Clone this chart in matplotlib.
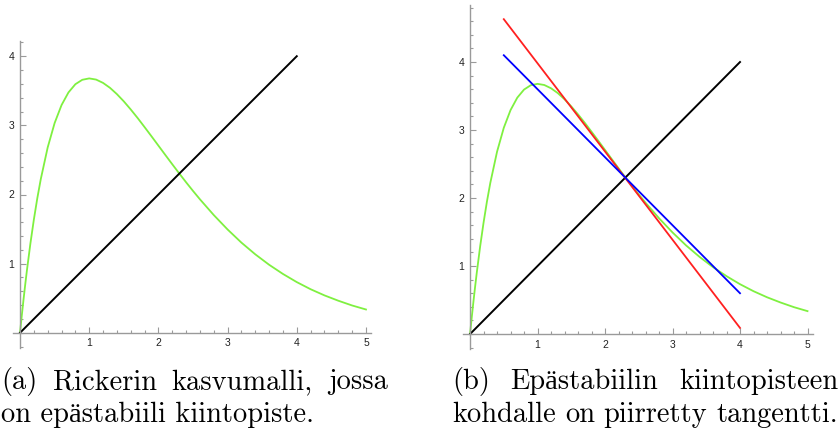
import matplotlib
matplotlib.use('Agg')
import matplotlib.pyplot as plt
from matplotlib.ticker import FixedLocator, MultipleLocator

# Ricker curve values
x_curve = [0.0, 0.025, 0.05, 0.075, 0.1, 0.15, 0.2, 0.25, 0.3, 0.4, 0.5, 0.6, 0.7, 0.8, 0.9,
           1.0, 1.1, 1.2, 1.3, 1.4, 1.5, 1.6, 1.7, 1.8, 1.9, 2.0, 2.1, 2.2, 2.3, 2.4, 2.5,
           2.6, 2.8, 3.0, 3.2, 3.4, 3.6, 3.8, 4.0, 4.2, 4.4, 4.6, 4.8, 5.0]
y_curve = [0.0, 0.244, 0.476, 0.696, 0.905, 1.291, 1.637, 1.947, 2.222, 2.681, 3.033, 3.293,
           3.476, 3.595, 3.659, 3.679, 3.662, 3.614, 3.543, 3.452, 3.347, 3.230, 3.106, 2.975,
           2.842, 2.707, 2.572, 2.438, 2.306, 2.177, 2.052, 1.931, 1.703, 1.494, 1.304, 1.135,
           0.984, 0.851, 0.733, 0.630, 0.541, 0.464, 0.395, 0.337]
diag_x = [0.0, 4.0]
diag_y = [0.0, 4.0]
red_x = [0.5, 4.0]
red_y = [4.63, 0.09]
blue_x = [0.5, 4.0]
blue_y = [4.10, 0.60]
x_ticks = [1, 2, 3, 4, 5]
y_ticks = [1, 2, 3, 4]
caption_a = [["(a)", "Rickerin", "kasvumalli,", "jossa"],
             ["on", "epästabiili", "kiintopiste."]]
caption_b = [["(b)", "Epästabiilin", "kiintopisteen"],
             ["kohdalle", "on", "piirretty", "tangentti."]]

W, H = 839, 441
fig = plt.figure(figsize=(W / 100, H / 100), dpi=100)
fig.patch.set_facecolor('white')

AX_COL = '#9a9a9a'
GREEN = '#7ff040'


def px_axes(x0, x1, ytop, ybot):
    return fig.add_axes([x0 / W, 1 - ybot / H, (x1 - x0) / W, (ybot - ytop) / H])


def style(ax, xlim, ylim):
    ax.set_xlim(*xlim)
    ax.set_ylim(*ylim)
    ax.patch.set_visible(False)
    for s in ['top', 'right']:
        ax.spines[s].set_visible(False)
    ax.spines['left'].set_position(('data', 0))
    ax.spines['bottom'].set_position(('data', 0))
    for s in ['left', 'bottom']:
        ax.spines[s].set_color(AX_COL)
        ax.spines[s].set_linewidth(1.0)
    ax.xaxis.set_major_locator(FixedLocator(x_ticks))
    ax.yaxis.set_major_locator(FixedLocator(y_ticks))
    ax.xaxis.set_minor_locator(MultipleLocator(0.2))
    ax.yaxis.set_minor_locator(MultipleLocator(0.2))
    ax.tick_params(which='both', direction='in', color=AX_COL, width=0.8,
                   labelsize=7.5, labelcolor='#222222')
    ax.tick_params(which='major', length=4.5, pad=4)
    ax.tick_params(which='minor', length=2.5)
    for lab in ax.get_xticklabels() + ax.get_yticklabels():
        lab.set_family('Liberation Sans')


# left panel
ax1 = px_axes(13.1, 371.5, 41.0, 348.0)
style(ax1, (-0.1, 5.08), (-0.22, 4.22))
ax1.plot(x_curve, y_curve, color=GREEN, lw=1.3, clip_on=False)
ax1.plot(diag_x, diag_y, color='black', lw=1.4, clip_on=False)

# right panel
ax2 = px_axes(463.3, 812.9, 4.9, 349.0)
style(ax2, (-0.1, 5.08), (-0.22, 4.84))
ax2.plot(x_curve, y_curve, color=GREEN, lw=1.3, clip_on=False)
ax2.plot(diag_x, diag_y, color='black', lw=1.4, clip_on=False)
ax2.plot(red_x, red_y, color='#ff2020', lw=1.3, clip_on=False)
ax2.plot(blue_x, blue_y, color='#0000ff', lw=1.3, clip_on=False)

# captions (justified first lines)
SERIF = ['cmr10', 'Liberation Serif']
FS = 20.5
renderer = fig.canvas.get_renderer()


def place_line(words, x0, x1, ybase, justify):
    if not justify:
        fig.text(x0 / W, 1 - ybase / H, " ".join(words), fontsize=FS, family=SERIF,
                 va='baseline', ha='left')
        return
    texts = [fig.text(0, 0, w, fontsize=FS, family=SERIF, va='baseline', ha='left')
             for w in words]
    widths = [t.get_window_extent(renderer).width for t in texts]
    gap = (x1 - x0 - sum(widths)) / (len(words) - 1)
    x = x0
    for t, w in zip(texts, widths):
        t.set_position((x / W, 1 - ybase / H))
        x += w + gap


place_line(caption_a[0], 1, 388, 389, True)
place_line(caption_a[1], 1, 388, 422, False)
place_line(caption_b[0], 452, 838, 389, True)
place_line(caption_b[1], 452, 838, 422, True)

fig.savefig('out.png', dpi=100)
